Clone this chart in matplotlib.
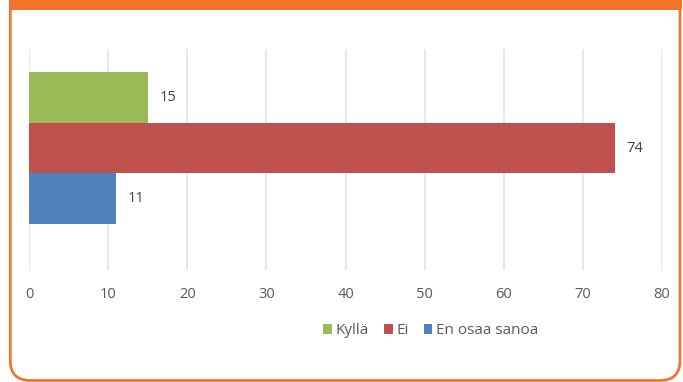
import matplotlib
matplotlib.use('Agg')
import matplotlib.pyplot as plt
from matplotlib.patches import FancyBboxPatch, Rectangle, Patch

# Vastaukset ja osuudet (%)
categories = ['Kyllä', 'Ei', 'En osaa sanoa']
values = [15, 74, 11]
colors = ['#9BBB59', '#C0504D', '#4F81BD']
x_ticks = [0, 10, 20, 30, 40, 50, 60, 70, 80]

orange = '#F37329'
W, H = 683, 382

plt.rcParams['font.family'] = ['Open Sans', 'DejaVu Sans']

fig = plt.figure(figsize=(W / 100, H / 100), dpi=100)
fig.patch.set_facecolor('white')

# Kehys: pyöristetty oranssi laatikko, yläreunassa täytetty palkki
frame = FancyBboxPatch((10.3 / 100, 1.5 / 100), (680 - 10.3) / 100, 4.5,
                       boxstyle='round,pad=0,rounding_size=0.2',
                       transform=fig.dpi_scale_trans,
                       facecolor='none', edgecolor=orange, linewidth=1.95,
                       zorder=0)
fig.add_artist(frame)
band = Rectangle((9 / W, 1 - 10 / H), (681.5 - 9) / W, 10 / H + 0.01,
                 transform=fig.transFigure, facecolor=orange,
                 edgecolor='none', zorder=0)
fig.add_artist(band)

ax = fig.add_axes([29 / W, 1 - 270 / H, (662 - 29) / W, (270 - 49) / H])
ypos = list(range(len(categories) - 1, -1, -1))
bars = ax.barh(ypos, values, height=1.0, color=colors, zorder=3)

for bar, v in zip(bars, values):
    ax.annotate(str(v), (bar.get_width(), bar.get_y() + bar.get_height() / 2),
                xytext=(8.5, 0), textcoords='offset points',
                ha='left', va='center', fontsize=10.5, color='#404040')

ax.set_xlim(0, 80)
ax.set_ylim(-1.407, 2.954)
ax.set_xticks(x_ticks)
ax.set_yticks([])
ax.grid(axis='x', color='#E0E0E0', linewidth=1.1, zorder=0)
for s in ax.spines.values():
    s.set_visible(False)
ax.tick_params(axis='x', length=0, pad=12, labelsize=10.5, labelcolor='#595959')

handles = [Patch(facecolor=c, edgecolor='none') for c in colors]
fig.legend(handles, categories, loc='center', ncol=3,
           bbox_to_anchor=(431 / W, 1 - 331 / H), frameon=False,
           fontsize=11, labelcolor='#595959',
           handlelength=0.55, handleheight=0.55, handletextpad=0.25,
           columnspacing=1.0)

fig.savefig('out.png', dpi=100)
